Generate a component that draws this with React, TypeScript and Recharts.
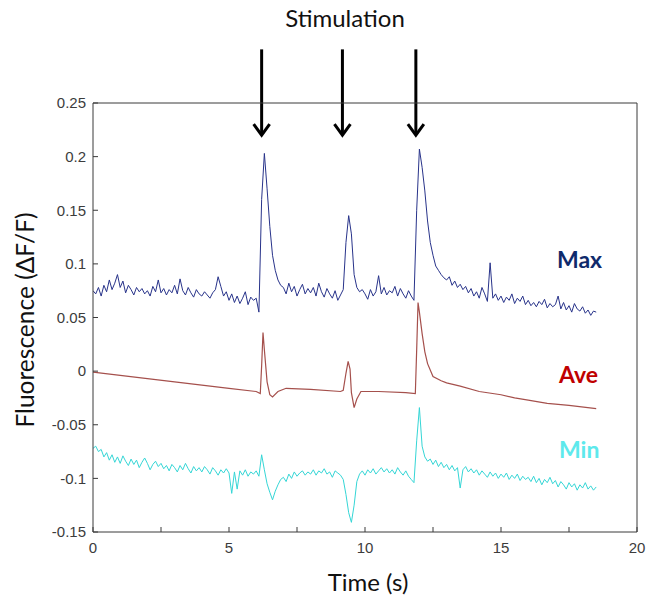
import { LineChart, Line, XAxis, YAxis, ReferenceLine } from 'recharts';

// sampling of the noisy traces (s)
const DT = 0.1;

const X_TICKS = [0, 2.5, 5, 7.5, 10, 12.5, 15, 17.5, 20];
const Y_TICKS = [-0.15, -0.1, -0.05, 0, 0.05, 0.1, 0.15, 0.2, 0.25];
const STIM_TIMES = [6.2, 9.17, 11.87];

// Max trace, one value every DT from t = 0
const MAX_V = [
  0.075, 0.072, 0.078, 0.070, 0.080, 0.074, 0.085, 0.076, 0.082, 0.090,
  0.078, 0.084, 0.073, 0.080, 0.076, 0.071, 0.078, 0.074, 0.077, 0.072,
  0.075, 0.070, 0.079, 0.074, 0.085, 0.073, 0.077, 0.071, 0.076, 0.073,
  0.080, 0.072, 0.086, 0.075, 0.071, 0.078, 0.073, 0.069, 0.076, 0.072,
  0.070, 0.074, 0.071, 0.068, 0.073, 0.076, 0.088, 0.079, 0.070, 0.074,
  0.066, 0.072, 0.064, 0.070, 0.063, 0.068, 0.074, 0.062, 0.069, 0.066,
  0.068, 0.055, 0.160, 0.203, 0.170, 0.135, 0.108, 0.094, 0.085, 0.080,
  0.078, 0.072, 0.082, 0.074, 0.079, 0.070, 0.076, 0.081, 0.072, 0.077,
  0.073, 0.078, 0.070, 0.082, 0.074, 0.069, 0.077, 0.072, 0.068, 0.075,
  0.066, 0.071, 0.076, 0.120, 0.145, 0.128, 0.090, 0.078, 0.074, 0.076,
  0.072, 0.067, 0.076, 0.070, 0.074, 0.089, 0.072, 0.078, 0.071, 0.075,
  0.073, 0.079, 0.070, 0.077, 0.072, 0.068, 0.075, 0.070, 0.066, 0.150,
  0.207, 0.190, 0.168, 0.140, 0.120, 0.108, 0.098, 0.094, 0.090, 0.087,
  0.085, 0.088, 0.080, 0.084, 0.078, 0.081, 0.076, 0.079, 0.073, 0.077,
  0.070, 0.074, 0.068, 0.078, 0.072, 0.065, 0.101, 0.068, 0.072, 0.066,
  0.070, 0.064, 0.069, 0.066, 0.072, 0.063, 0.068, 0.065, 0.070, 0.062,
  0.066, 0.061, 0.064, 0.060, 0.065, 0.062, 0.067, 0.059, 0.063, 0.060,
  0.062, 0.070, 0.058, 0.064, 0.057, 0.061, 0.055, 0.063, 0.058, 0.056,
  0.060, 0.054, 0.057, 0.052, 0.056, 0.055,
];

// Ave trace is smooth, so it is kept at its own time points
const AVE_T = [
  0, 1, 2, 3, 4, 5, 6, 6.15, 6.2, 6.25, 6.3, 6.4, 6.5, 6.6, 6.8, 7.1, 8, 9.1,
  9.2, 9.3, 9.38, 9.45, 9.5, 9.6, 9.7, 9.85, 10.5, 11.5, 11.85, 11.9, 11.95,
  12, 12.1, 12.2, 12.3, 12.5, 12.8, 13, 13.5, 14.2, 15, 15.5, 16, 16.7, 17.5, 18.5,
];
const AVE_V = [
  -0.001, -0.004, -0.007, -0.010, -0.013, -0.016, -0.019, -0.021, 0.005, 0.036,
  0.020, -0.010, -0.022, -0.024, -0.019, -0.016, -0.017, -0.019,
  -0.018, -0.002, 0.009, 0.002, -0.020, -0.034, -0.026, -0.019, -0.019, -0.020,
  -0.021, 0.020, 0.064,
  0.055, 0.035, 0.018, 0.007, -0.005, -0.009, -0.011, -0.014, -0.019, -0.022,
  -0.025, -0.027, -0.030, -0.032, -0.035,
];

// Min trace, one value every DT from t = 0
const MIN_V = [
  -0.072, -0.070, -0.075, -0.073, -0.080, -0.076, -0.083, -0.078, -0.085, -0.080,
  -0.086, -0.079, -0.084, -0.088, -0.082, -0.087, -0.083, -0.090, -0.085, -0.081,
  -0.086, -0.092, -0.087, -0.084, -0.089, -0.086, -0.091, -0.088, -0.093, -0.087,
  -0.090, -0.094, -0.088, -0.092, -0.086, -0.091, -0.095, -0.089, -0.093, -0.090,
  -0.094, -0.089, -0.092, -0.096, -0.090, -0.093, -0.097, -0.092, -0.095, -0.091,
  -0.095, -0.114, -0.094, -0.110, -0.093, -0.097, -0.092, -0.098, -0.094, -0.096,
  -0.093, -0.098, -0.078, -0.092, -0.105, -0.113, -0.120, -0.112, -0.106, -0.101,
  -0.099, -0.103, -0.096, -0.100, -0.094, -0.098, -0.095, -0.093, -0.097, -0.094,
  -0.096, -0.092, -0.097, -0.093, -0.095, -0.091, -0.096, -0.094, -0.099, -0.093,
  -0.095, -0.097, -0.101, -0.115, -0.132, -0.141, -0.125, -0.103, -0.096, -0.093,
  -0.097, -0.092, -0.095, -0.091, -0.096, -0.093, -0.090, -0.094, -0.091, -0.095,
  -0.092, -0.096, -0.090, -0.094, -0.097, -0.093, -0.098, -0.101, -0.104, -0.065,
  -0.034, -0.070, -0.080, -0.084, -0.082, -0.087, -0.083, -0.089, -0.085, -0.090,
  -0.087, -0.092, -0.088, -0.093, -0.090, -0.109, -0.092, -0.089, -0.094, -0.091,
  -0.095, -0.092, -0.097, -0.093, -0.096, -0.099, -0.094, -0.098, -0.095, -0.100,
  -0.096, -0.099, -0.095, -0.101, -0.097, -0.100, -0.096, -0.102, -0.098, -0.101,
  -0.099, -0.103, -0.098, -0.104, -0.100, -0.106, -0.101, -0.104, -0.099, -0.105,
  -0.102, -0.108, -0.103, -0.106, -0.110, -0.104, -0.108, -0.105, -0.111, -0.106,
  -0.109, -0.104, -0.110, -0.107, -0.111, -0.108,
];

const maxData = MAX_V.map((v, i) => ({ t: +(i * DT).toFixed(2), v }));
const aveData = AVE_T.map((t, i) => ({ t, v: AVE_V[i] }));
const minData = MIN_V.map((v, i) => ({ t: +(i * DT).toFixed(2), v }));

const AXIS = '#3a3a3a';
const TICK_FONT = { fontSize: 15, fill: '#3c3c3c', fontFamily: '"Liberation Sans", Arial, sans-serif' };
const TITLE_FONT = 'Lato, "Open Sans", sans-serif';

function StimArrow(props: any) {
  const { x1, y1, x2, y2 } = props;
  return (
    <g>
      <line x1={x1} y1={y1} x2={x2} y2={y2 - 2} stroke="#000" strokeWidth={3} />
      <polyline
        points={`${x2 - 8},${y2 - 11} ${x2},${y2} ${x2 + 8},${y2 - 11}`}
        fill="none" stroke="#000" strokeWidth={3}
      />
    </g>
  );
}

const xTick = (v: number) => (v % 5 === 0 ? String(v) : '');

export default function App() {
  return (
    <div style={{ position: 'relative', width: 652, height: 605, background: '#fff' }}>
      <style>{'body{margin:0}'}</style>
      <LineChart
        width={652} height={605}
        margin={{ top: 98, right: 10, bottom: 33, left: 33 }}
      >
        <XAxis
          xAxisId="b" dataKey="t" type="number" domain={[0, 20]} ticks={X_TICKS}
          tickFormatter={xTick} tickSize={-5} tickMargin={15} height={40}
          stroke={AXIS} tick={TICK_FONT} allowDataOverflow
        />
        <XAxis
          xAxisId="t" orientation="top" type="number" domain={[0, 20]} ticks={X_TICKS}
          tick={false} tickSize={-5} height={5} stroke={AXIS}
        />
        <YAxis
          yAxisId="l" type="number" domain={[-0.15, 0.25]} ticks={Y_TICKS}
          tickSize={-5} tickMargin={12} width={60} stroke={AXIS} tick={TICK_FONT}
          allowDataOverflow
        />
        <YAxis
          yAxisId="r" orientation="right" type="number" domain={[-0.15, 0.25]}
          ticks={Y_TICKS} tick={false} tickSize={-5} width={5} stroke={AXIS}
        />

        <Line data={maxData} xAxisId="b" yAxisId="l" dataKey="v" stroke="#28338a"
          strokeWidth={1} dot={false} isAnimationActive={false} />
        <Line data={aveData} xAxisId="b" yAxisId="l" dataKey="v" stroke="#a5504c"
          strokeWidth={1.2} dot={false} isAnimationActive={false} />
        <Line data={minData} xAxisId="b" yAxisId="l" dataKey="v" stroke="#35d6d6"
          strokeWidth={1} dot={false} isAnimationActive={false} />

        {STIM_TIMES.map((t) => (
          <ReferenceLine
            key={t} xAxisId="b" yAxisId="l" ifOverflow="visible"
            segment={[{ x: t, y: 0.3 }, { x: t, y: 0.22 }]}
            shape={StimArrow}
          />
        ))}
      </LineChart>

      <div style={{ position: 'absolute', left: 245, top: 3, width: 200, textAlign: 'center',
        fontFamily: TITLE_FONT, fontSize: 24, color: '#111' }}>Stimulation</div>

      <div style={{ position: 'absolute', left: 188, top: 567, width: 360, textAlign: 'center',
        fontFamily: TITLE_FONT, fontSize: 24, color: '#111' }}>Time (s)</div>

      <div style={{ position: 'absolute', left: 25, top: 320, width: 300, marginLeft: -150,
        marginTop: -15, textAlign: 'center', transform: 'rotate(-90deg)',
        fontFamily: TITLE_FONT, fontSize: 24.5, color: '#111', lineHeight: '30px' }}>
        Fluorescence (ΔF/F)
      </div>

      <div style={{ position: 'absolute', left: 557, top: 245, fontFamily: TITLE_FONT,
        fontWeight: 700, fontSize: 23, color: '#0f2a6b' }}>Max</div>
      <div style={{ position: 'absolute', left: 559, top: 360, fontFamily: TITLE_FONT,
        fontWeight: 700, fontSize: 23, color: '#c00000' }}>Ave</div>
      <div style={{ position: 'absolute', left: 559, top: 435, fontFamily: TITLE_FONT,
        fontWeight: 700, fontSize: 23, color: '#5ee9ec' }}>Min</div>
    </div>
  );
}
